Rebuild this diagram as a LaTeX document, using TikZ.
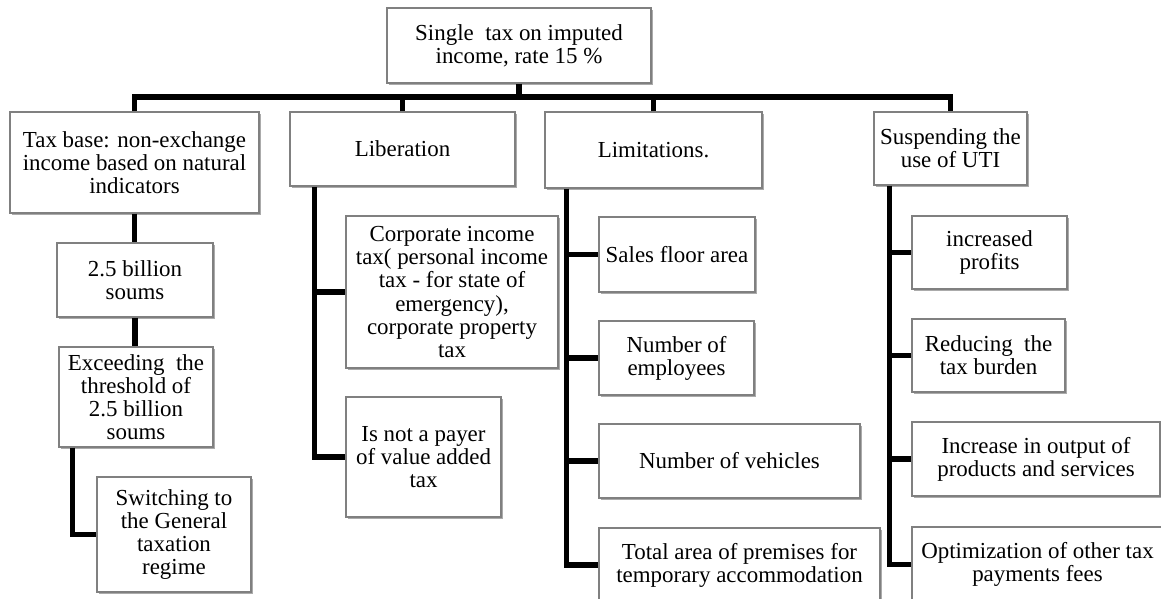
\documentclass[tikz,border=0pt]{standalone}
\usepackage{fontspec}
\setmainfont{Liberation Serif}
\usetikzlibrary{shadows}

\begin{document}
\begin{tikzpicture}[x=0.025cm, y=-0.025cm,
    box/.style 2 args={draw=gray, line width=0.9pt, fill=white, align=center, inner sep=1pt,
      minimum width=#1*0.025cm, minimum height=#2*0.025cm,
      drop shadow={shadow xshift=1.4pt, shadow yshift=-1.4pt, fill=black!55, opacity=0.6},
      font=\fontsize{16.3}{16.5}\selectfont},
    link/.style={line width=3.6pt}]
        \useasboundingbox (0,0) rectangle (1161,598);

        \node[box={264}{75}] (tax) at (519,45.5) {Single\ \ tax on imputed\\income, rate 15 \%};
        \node[box={249}{101}] (base) at (134.5,162.5) {Tax base: non-exchange\\income based on natural\\indicators};
        \node[box={225}{74}] (lib) at (402.5,149) {Liberation};
        \node[box={217}{76}] (lim) at (653.5,150) {Limitations.};
        \node[box={153}{73}] (susp) at (950.5,148.5) {Suspending the\\use of UTI};

        \node[box={156}{74}] (bill) at (135,280) {2.5 billion\\soums};
        \node[box={154}{100}] (exceed) at (136,397) {Exceeding\ \ the\\threshold of\\2.5 billion\\soums};
        \node[box={154}{115}] (general) at (174,534.5) {Switching to\\the General\\taxation\\regime};

        \node[box={212}{152}] (incometax) at (452,292) {Corporate income\\tax( personal income\\tax - for state of\\emergency),\\corporate property\\tax};
        \node[box={155}{120}] (vat) at (423.5,457) {Is not a payer\\of value added\\tax};

        \node[box={156}{75}] (floor) at (677,254.5) {Sales floor area};
        \node[box={155}{74}] (staff) at (676.5,358) {Number of\\employees};
        \node[box={261}{74}] (cars) at (729.5,461) {Number of vehicles};
        \node[box={281}{74}] (rooms) at (739.5,565) {Total area of premises for\\temporary accommodation};

        \node[box={155}{73}] (gain) at (989.5,252.5) {increased\\profits};
        \node[box={153}{73}] (burden) at (988.5,355.5) {Reducing\ \ the\\tax burden};
        \node[box={248}{74}] (output) at (1036,459) {Increase in output of\\products and services};
        \node[box={251}{75}] (fees) at (1037.5,564.5) {Optimization of other tax\\payments fees};

        \coordinate (bus) at (0,97);
        \draw[link] (tax.south) -- (tax.south |- bus);
        \draw[link] (base.north) -- (base.north |- bus) -- (susp.north |- bus) -- (susp.north);
        \draw[link] (lib.north) -- (lib.north |- bus);
        \draw[link] (lim.north) -- (lim.north |- bus);

        \draw[link] (base.south) -- (base.south |- bill.north);
        \draw[link] (bill.south) -- (bill.south |- exceed.north);
        \draw[link] (exceed.south west) ++(14,0) |- (general.west);

        \draw[link] (lib.south west) ++(25,0) coordinate (libtrunk) |- (vat.west);
        \draw[link] (libtrunk |- incometax.west) -- (incometax.west);

        \draw[link] (lim.south west) ++(22,0) coordinate (limtrunk) |- (rooms.west);
        \draw[link] (limtrunk |- floor.west) -- (floor.west);
        \draw[link] (limtrunk |- staff.west) -- (staff.west);
        \draw[link] (limtrunk |- cars.west) -- (cars.west);

        \draw[link] (susp.south west) ++(16,0) coordinate (susptrunk) |- (fees.west);
        \draw[link] (susptrunk |- gain.west) -- (gain.west);
        \draw[link] (susptrunk |- burden.west) -- (burden.west);
        \draw[link] (susptrunk |- output.west) -- (output.west);
      \end{tikzpicture}
\end{document}
